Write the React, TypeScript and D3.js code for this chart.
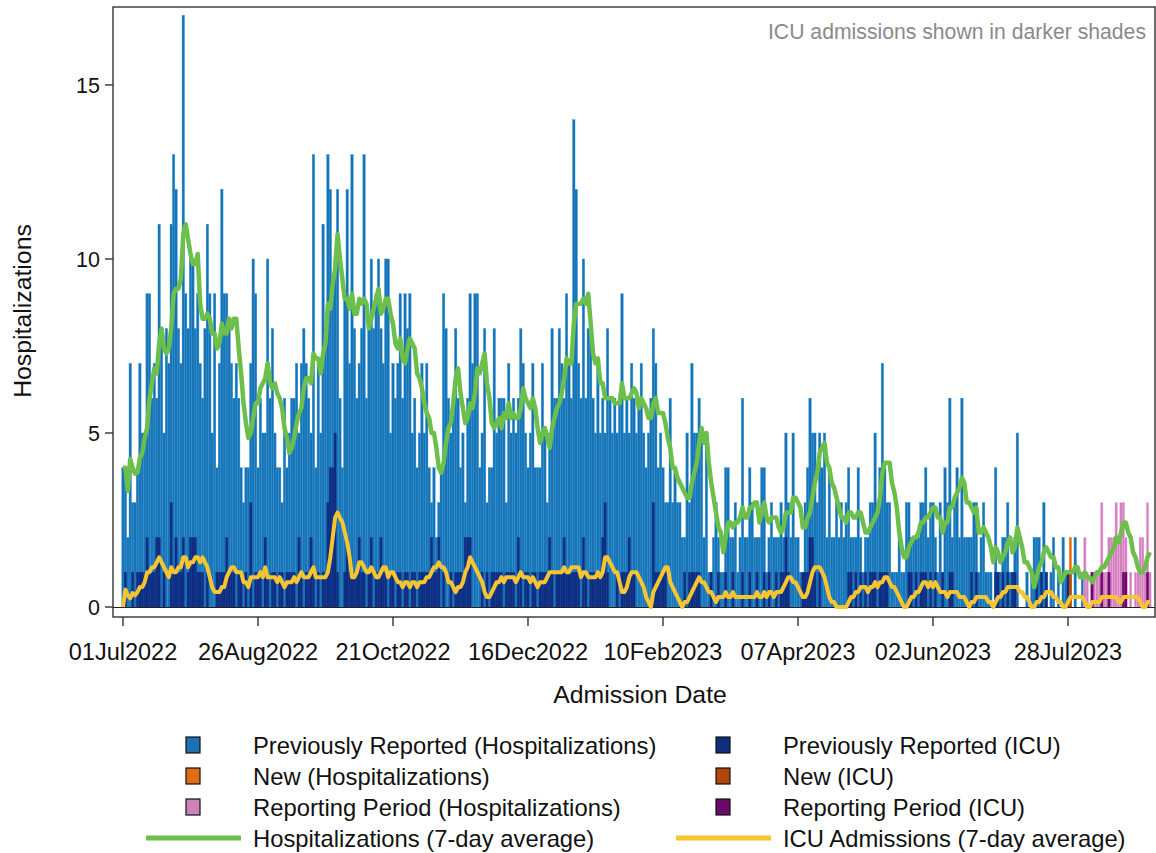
import React from "react";
import * as d3 from "d3";

// ---------------- data ----------------
const startDate = "2022-07-01";

// daily hospitalizations, 01Jul2022 .. 31Aug2023 (one row per week)
const hospitalizations = [
  4,4,2,7,3,3,4,
  7,5,5,9,9,6,7,
  6,11,8,5,8,7,11,
  13,12,8,7,17,9,8,
  10,10,8,9,7,6,8,
  11,9,5,9,4,7,12,
  9,9,8,7,6,7,6,
  4,3,4,4,7,10,9,
  4,6,5,5,10,6,8,
  5,4,4,3,6,4,5,
  6,6,7,5,7,8,7,
  6,5,13,4,7,5,11,
  8,13,12,9,10,12,6,
  4,9,12,7,13,8,6,
  7,8,13,6,8,10,8,
  9,10,8,7,10,10,5,
  7,6,7,9,6,9,8,
  9,5,6,4,5,7,5,
  7,4,3,4,2,3,4,
  9,8,6,5,6,8,6,
  4,5,3,6,9,7,9,
  9,4,5,8,3,4,4,
  8,5,6,6,6,3,7,
  5,6,5,6,8,7,5,
  4,5,7,4,4,4,7,
  5,3,5,8,6,6,8,
  7,6,9,7,6,14,12,
  7,6,10,6,8,8,6,
  5,7,5,6,5,8,6,
  5,6,5,6,9,5,6,
  5,7,6,5,6,7,5,
  4,5,6,8,7,4,5,
  4,3,3,6,3,4,3,
  3,2,2,5,3,7,5,
  5,6,5,2,5,1,1,
  2,3,2,1,1,4,4,
  2,2,3,1,2,6,2,
  2,4,3,2,2,2,4,
  4,1,2,3,2,2,2,
  3,2,5,3,2,5,2,
  2,1,1,3,4,6,5,
  5,3,5,4,5,2,4,
  2,2,3,2,3,2,3,
  4,2,2,2,4,2,1,
  2,2,3,3,5,3,4,
  7,4,3,3,1,1,1,
  2,1,1,3,3,2,2,
  2,2,3,3,4,2,3,
  3,2,1,3,1,4,3,
  6,2,3,4,2,6,2,
  2,2,2,3,3,1,2,
  3,1,1,1,0,4,1,
  1,2,2,3,1,1,2,
  5,0,0,0,1,0,1,
  2,2,2,1,3,1,0,
  1,2,0,1,0,2,1,
  1,2,0,2,0,0,1,
  2,1,0,1,1,1,1,
  3,1,1,2,2,2,3,
  2,3,3,2,0,1,0,
  1,1,2,2,1,3,1,
];

// daily ICU admissions, same days
const icuAdmissions = [
  0,1,0,0,1,0,1,
  1,1,1,2,1,1,1,
  2,2,0,1,0,0,3,
  1,2,1,1,2,0,1,
  2,2,2,1,1,1,0,
  1,0,0,0,1,1,1,
  1,2,1,1,1,0,1,
  1,0,1,0,3,0,1,
  1,1,0,2,1,0,1,
  1,0,1,1,0,1,1,
  1,1,0,2,1,0,1,
  1,2,1,0,1,0,1,
  1,3,4,4,5,1,0,
  0,1,2,1,1,1,1,
  2,1,1,0,1,2,0,
  1,1,2,1,1,0,1,
  1,0,1,1,0,1,1,
  0,1,1,0,1,1,1,
  1,1,2,1,1,2,0,
  1,0,0,1,0,1,1,
  1,1,2,2,2,0,0,
  0,0,1,0,1,0,1,
  1,1,1,1,0,1,1,
  1,1,0,2,1,0,1,
  1,0,1,1,0,1,1,
  1,1,2,1,0,1,1,
  1,2,1,1,1,1,1,
  1,0,2,1,0,1,1,
  1,1,1,2,3,1,0,
  0,0,1,0,1,1,1,
  2,1,1,0,0,0,0,
  0,0,0,3,1,1,1,
  1,1,0,0,0,0,0,
  0,0,1,0,1,1,1,
  1,1,0,0,0,0,1,
  0,0,1,0,0,1,0,
  0,1,0,0,0,1,0,
  0,1,0,0,1,0,0,
  1,0,1,0,0,1,0,
  1,1,2,1,0,0,0,
  0,0,1,1,1,2,2,
  1,0,1,0,0,0,0,
  0,0,0,0,0,0,0,
  1,1,0,1,0,1,0,
  1,0,1,1,1,0,1,
  1,1,1,0,0,0,0,
  0,0,0,0,1,1,0,
  1,0,1,1,1,0,1,
  0,1,0,0,1,0,0,
  1,1,0,0,0,0,0,
  0,0,1,0,1,0,0,
  0,0,0,0,0,1,1,
  0,1,0,1,0,1,1,
  0,0,0,0,0,0,0,
  0,1,0,1,0,1,0,
  0,0,0,0,0,0,0,
  1,1,0,0,0,0,0,
  0,0,0,1,0,0,0,
  1,0,0,1,0,0,0,
  0,0,1,1,0,0,0,
  0,0,0,0,0,1,0,
];

const newReportDates = ["2023-07-29"];
const reportingPeriodStart = "2023-08-04";

const xTickDates = [
  "2022-07-01", "2022-08-26", "2022-10-21", "2022-12-16",
  "2023-02-10", "2023-04-07", "2023-06-02", "2023-07-28",
];
const yTicks = [0, 5, 10, 15];

const legendBoxes = [
  { label: "Previously Reported (Hospitalizations)", color: "#1a72b0", col: 0, row: 0 },
  { label: "Previously Reported (ICU)", color: "#0f2d7c", col: 1, row: 0 },
  { label: "New (Hospitalizations)", color: "#e36b14", col: 0, row: 1 },
  { label: "New (ICU)", color: "#b3440b", col: 1, row: 1 },
  { label: "Reporting Period (Hospitalizations)", color: "#cd82b9", col: 0, row: 2 },
  { label: "Reporting Period (ICU)", color: "#6b0a69", col: 1, row: 2 },
];
const legendLines = [
  { label: "Hospitalizations (7-day average)", color: "#6cbf4a", col: 0 },
  { label: "ICU Admissions (7-day average)", color: "#f8c430", col: 1 },
];

const hospColors = { prev: "#1a72b0", new: "#e36b14", period: "#cd82b9" };
const icuColors = { prev: "#0f2d7c", new: "#b3440b", period: "#6b0a69" };

// ---------------- chart ----------------
const W = 1156;
const H = 853;
const FONT = "'Liberation Sans', Arial, Helvetica, sans-serif";
const DAY = 864e5;

function trailingAverage(values: number[], n: number) {
  return values.map((_, i) => {
    const win = values.slice(Math.max(0, i - n + 1), i + 1);
    return d3.mean(win) as number;
  });
}

export default function App() {
  const parse = d3.utcParse("%Y-%m-%d");
  const t0 = parse(startDate) as Date;
  const dates = hospitalizations.map((_, i) => d3.utcDay.offset(t0, i));
  const periodStart = parse(reportingPeriodStart) as Date;
  const newSet = new Set(newReportDates);
  const fmtKey = d3.utcFormat("%Y-%m-%d");

  const x = d3
    .scaleUtc()
    .domain([new Date(+t0 - 4.15 * DAY), new Date(+t0 + 428.1 * DAY)])
    .range([113, 1155]);
  const y = d3.scaleLinear().domain([-0.287, 17.24]).range([617, 7]);
  const bw = x(new Date(+t0 + DAY)) - x(t0);

  const status = (i: number): "prev" | "new" | "period" => {
    const d = dates[i];
    if (+d >= +periodStart) return "period";
    if (newSet.has(fmtKey(d))) return "new";
    return "prev";
  };

  const hospAvg = trailingAverage(hospitalizations, 7);
  const icuAvg = trailingAverage(icuAdmissions, 7);

  const line = d3
    .line<number>()
    .x((_, i) => x(dates[i]))
    .y((v) => y(v));

  const tickFmt = d3.utcFormat("%d%b%Y");
  const y0 = y(0);

  const legendCol = [
    { sw: 186, tx: 253, l0: 146, l1: 241 },
    { sw: 716, tx: 783, l0: 676, l1: 771 },
  ];
  const legendRowY = [745, 776, 807, 838];

  return (
    <svg
      width={W}
      height={H}
      style={{ position: "absolute", left: 0, top: 0, background: "#fff" }}
      fontFamily={FONT}
    >
      <rect x={0} y={0} width={W} height={H} fill="#fff" />
      {/* bars: hospitalizations */}
      <g>
        {hospitalizations.map((v, i) =>
          v > 0 ? (
            <rect
              key={"h" + i}
              x={x(dates[i]) - bw / 2}
              y={y(v)}
              width={bw}
              height={y0 - y(v)}
              fill={hospColors[status(i)]}
              stroke={d3.color(hospColors[status(i)])!.brighter(0.7).formatHex()}
              strokeWidth={0.4}
            />
          ) : null
        )}
      </g>
      {/* bars: ICU */}
      <g>
        {icuAdmissions.map((v, i) =>
          v > 0 ? (
            <rect
              key={"c" + i}
              x={x(dates[i]) - bw / 2}
              y={y(v)}
              width={bw}
              height={y0 - y(v)}
              fill={icuColors[status(i)]}
              stroke={d3.color(icuColors[status(i)])!.brighter(0.7).formatHex()}
              strokeWidth={0.35}
            />
          ) : null
        )}
      </g>
      {/* zero line */}
      <line x1={113} x2={1155} y1={y0 + 0.5} y2={y0 + 0.5} stroke="#222" strokeWidth={1} />
      {/* averages */}
      <path d={line(hospAvg) || ""} fill="none" stroke="#6cbf4a" strokeWidth={4.5} strokeLinejoin="round" />
      <path d={line(icuAvg) || ""} fill="none" stroke="#f8c430" strokeWidth={4} strokeLinejoin="round" />

      {/* frame */}
      <rect x={113} y={7} width={1155 - 113} height={617 - 7} fill="none" stroke="#333" strokeWidth={1.4} />

      {/* y axis */}
      {yTicks.map((t) => (
        <g key={"yt" + t}>
          <line x1={105} x2={113} y1={y(t)} y2={y(t)} stroke="#333" strokeWidth={1.4} />
          <text x={100} y={y(t)} dy="0.36em" textAnchor="end" fontSize={21.5} fill="#111">
            {t}
          </text>
        </g>
      ))}
      <text
        transform={`translate(31,${311}) rotate(-90)`}
        textAnchor="middle"
        fontSize={24.8}
        fill="#111"
      >
        Hospitalizations
      </text>

      {/* x axis */}
      {xTickDates.map((s) => {
        const d = parse(s) as Date;
        const xx = x(d);
        return (
          <g key={s}>
            <line x1={xx} x2={xx} y1={617} y2={626} stroke="#333" strokeWidth={1.4} />
            <text x={xx} y={660} textAnchor="middle" fontSize={23.5} fill="#111">
              {tickFmt(d)}
            </text>
          </g>
        );
      })}
      <text x={640} y={703} textAnchor="middle" fontSize={24.8} fill="#111">
        Admission Date
      </text>

      {/* annotation */}
      <text x={1146} y={39} textAnchor="end" fontSize={21.2} fill="#8a8a8a">
        ICU admissions shown in darker shades
      </text>

      {/* legend */}
      {legendBoxes.map((b) => {
        const c = legendCol[b.col];
        const cy = legendRowY[b.row];
        return (
          <g key={b.label}>
            <rect x={c.sw} y={cy - 8} width={14} height={16} fill={b.color} stroke="#111" strokeWidth={1.2} />
            <text x={c.tx} y={cy} dy="0.36em" fontSize={23.8} fill="#111">
              {b.label}
            </text>
          </g>
        );
      })}
      {legendLines.map((l) => {
        const c = legendCol[l.col];
        const cy = legendRowY[3];
        return (
          <g key={l.label}>
            <line x1={c.l0} x2={c.l1} y1={cy} y2={cy} stroke={l.color} strokeWidth={5} />
            <text x={c.tx} y={cy} dy="0.36em" fontSize={23.8} fill="#111">
              {l.label}
            </text>
          </g>
        );
      })}
    </svg>
  );
}
